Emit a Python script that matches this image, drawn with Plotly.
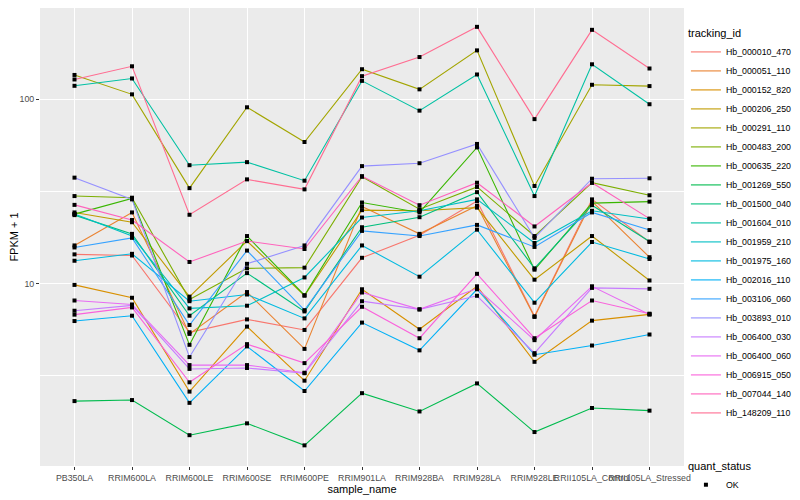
import plotly.graph_objects as go

samples = ["PB350LA", "RRIM600LA", "RRIM600LE", "RRIM600SE", "RRIM600PE", "RRIM901LA",
           "RRIM928BA", "RRIM928LA", "RRIM928LE", "RRII105LA_Control", "RRII105LA_Stressed"]

hb_000010_470 = [14.4, 14.2, 5.45, 6.4, 5.61, 13.8, 18.3, 28.0, 6.65, 28.6, 16.8]
hb_000051_110 = [16.1, 24.3, 5.34, 9.0, 4.43, 26.2, 18.6, 26.4, 6.6, 27.9, 13.9]
hb_000152_820 = [9.84, 8.38, 2.60, 5.85, 2.98, 9.32, 5.66, 9.67, 3.77, 6.30, 6.81]
hb_000206_250 = [24.3, 21.5, 8.5, 17.0, 8.6, 25.0, 24.8, 25.8, 10.5, 18.1, 10.4]
hb_000291_110 = [135, 106, 32.9, 90.2, 58.5, 145, 112.8, 183.4, 33.8, 119.4, 117.5]
hb_000483_200 = [29.8, 29.2, 8.2, 12.1, 12.2, 37.9, 25.3, 33.4, 18.1, 35.2, 30.1]
hb_000635_220 = [23.8, 28.9, 4.66, 18.1, 8.65, 27.5, 24.3, 54.7, 11.9, 27.3, 27.8]
hb_001269_550 = [2.31, 2.34, 1.51, 1.75, 1.33, 2.55, 2.03, 2.88, 1.57, 2.12, 2.05]
hb_001500_040 = [23.5, 18.6, 6.7, 11.4, 7.07, 20.2, 22.9, 31.3, 12.1, 26.6, 16.9]
hb_001604_010 = [117.9, 129.2, 43.8, 45.5, 36.1, 125.4, 86.5, 135.8, 29.8, 154.2, 93.7]
hb_001959_210 = [23.8, 18.1, 7.34, 7.59, 10.8, 22.8, 24.8, 28.6, 16.6, 24.8, 22.4]
hb_001975_160 = [13.3, 14.5, 8.03, 8.73, 6.48, 16.1, 10.9, 19.6, 7.88, 16.8, 13.6]
hb_002016_110 = [6.27, 6.7, 2.26, 4.57, 2.62, 6.15, 4.35, 9.32, 4.12, 4.62, 5.30]
hb_003106_060 = [15.7, 17.7, 5.97, 15.1, 7.18, 19.3, 18.1, 20.8, 15.8, 24.3, 19.5]
hb_003893_010 = [37.5, 28.6, 4.0, 12.8, 16.1, 43.3, 44.9, 57.1, 17.7, 37.0, 37.2]
hb_006400_030 = [7.13, 7.62, 3.45, 3.49, 3.27, 8.03, 7.25, 8.59, 4.20, 9.48, 9.37]
hb_006400_060 = [8.10, 7.71, 3.62, 3.62, 3.29, 8.95, 7.25, 9.4, 4.94, 9.67, 6.81]
hb_006915_050 = [6.79, 7.43, 2.92, 4.70, 3.71, 7.49, 5.06, 11.3, 5.06, 8.10, 6.87]
hb_007044_140 = [26.7, 22.1, 13.1, 17.0, 15.4, 38.2, 26.6, 35.2, 20.4, 35.2, 22.5]
hb_148209_110 = [127.6, 150.4, 23.6, 36.7, 32.4, 133, 168.8, 246, 77.8, 237, 146.3]

series = [
    ("Hb_000010_470", hb_000010_470), ("Hb_000051_110", hb_000051_110),
    ("Hb_000152_820", hb_000152_820), ("Hb_000206_250", hb_000206_250),
    ("Hb_000291_110", hb_000291_110), ("Hb_000483_200", hb_000483_200),
    ("Hb_000635_220", hb_000635_220), ("Hb_001269_550", hb_001269_550),
    ("Hb_001500_040", hb_001500_040), ("Hb_001604_010", hb_001604_010),
    ("Hb_001959_210", hb_001959_210), ("Hb_001975_160", hb_001975_160),
    ("Hb_002016_110", hb_002016_110), ("Hb_003106_060", hb_003106_060),
    ("Hb_003893_010", hb_003893_010), ("Hb_006400_030", hb_006400_030),
    ("Hb_006400_060", hb_006400_060), ("Hb_006915_050", hb_006915_050),
    ("Hb_007044_140", hb_007044_140), ("Hb_148209_110", hb_148209_110),
]

palette = ["#F8766D", "#EA8331", "#D89000", "#C09B00", "#A3A500", "#7CAE00", "#39B600",
           "#00BB4E", "#00BF7D", "#00C1A3", "#00BFC4", "#00BAE0", "#00B0F6", "#35A2FF",
           "#9590FF", "#C77CFF", "#E76BF3", "#FA62DB", "#FF62BC", "#FF6C91"]

FONT = "Liberation Sans, Arial, sans-serif"

fig = go.Figure()
for (name, vals), col in zip(series, palette):
    fig.add_trace(go.Scatter(x=samples, y=vals, mode="lines", name=name,
                             line=dict(color=col, width=1.1), legend="legend"))

all_x, all_y = [], []
for name, vals in series:
    all_x += samples
    all_y += vals
fig.add_trace(go.Scatter(x=all_x, y=all_y, mode="markers", name="OK", legend="legend2",
                         marker=dict(symbol="square", size=4, color="black")))

# page body has an 8px margin, so the figure is sized/offset to compensate
fig.update_layout(
    width=792, height=492,
    margin=dict(l=32, r=116, t=0, b=31),
    paper_bgcolor="white", plot_bgcolor="#EBEBEB",
    font=dict(family=FONT, size=11, color="black"),
    showlegend=True,
    legend=dict(title=dict(text="tracking_id", font=dict(size=11)), font=dict(size=8.8),
                x=1.003, xanchor="left", y=0.967, yanchor="top",
                bgcolor="rgba(0,0,0,0)", tracegroupgap=0),
    legend2=dict(title=dict(text="quant_status", font=dict(size=11)), font=dict(size=8.8),
                 x=1.003, xanchor="left", y=0.022, yanchor="top",
                 bgcolor="rgba(0,0,0,0)"),
)

fig.update_xaxes(
    type="category", categoryorder="array", categoryarray=samples,
    range=[-0.6, len(samples) - 0.4],
    title=dict(text="sample_name", font=dict(size=11), standoff=2),
    tickfont=dict(size=8.8, color="#4D4D4D"), tickangle=0,
    ticks="outside", ticklen=3, tickcolor="#333333",
    showgrid=True, gridcolor="white", gridwidth=1.1, zeroline=False, showline=False,
    automargin=False,
)
fig.update_yaxes(
    type="log", range=[0.012, 2.493],
    tickvals=[10, 100], ticktext=["10", "100"],
    title=dict(text="FPKM + 1", font=dict(size=11), standoff=4),
    tickfont=dict(size=8.8, color="#4D4D4D"),
    ticks="outside", ticklen=3, tickcolor="#333333",
    showgrid=True, gridcolor="white", gridwidth=1.1, zeroline=False, showline=False,
    minor=dict(tickvals=[10 ** 0.5, 10 ** 1.5, 10 ** 2.5], showgrid=True,
               gridcolor="white", gridwidth=0.55, ticks=""),
    automargin=False,
)

fig.write_html("out.html")
